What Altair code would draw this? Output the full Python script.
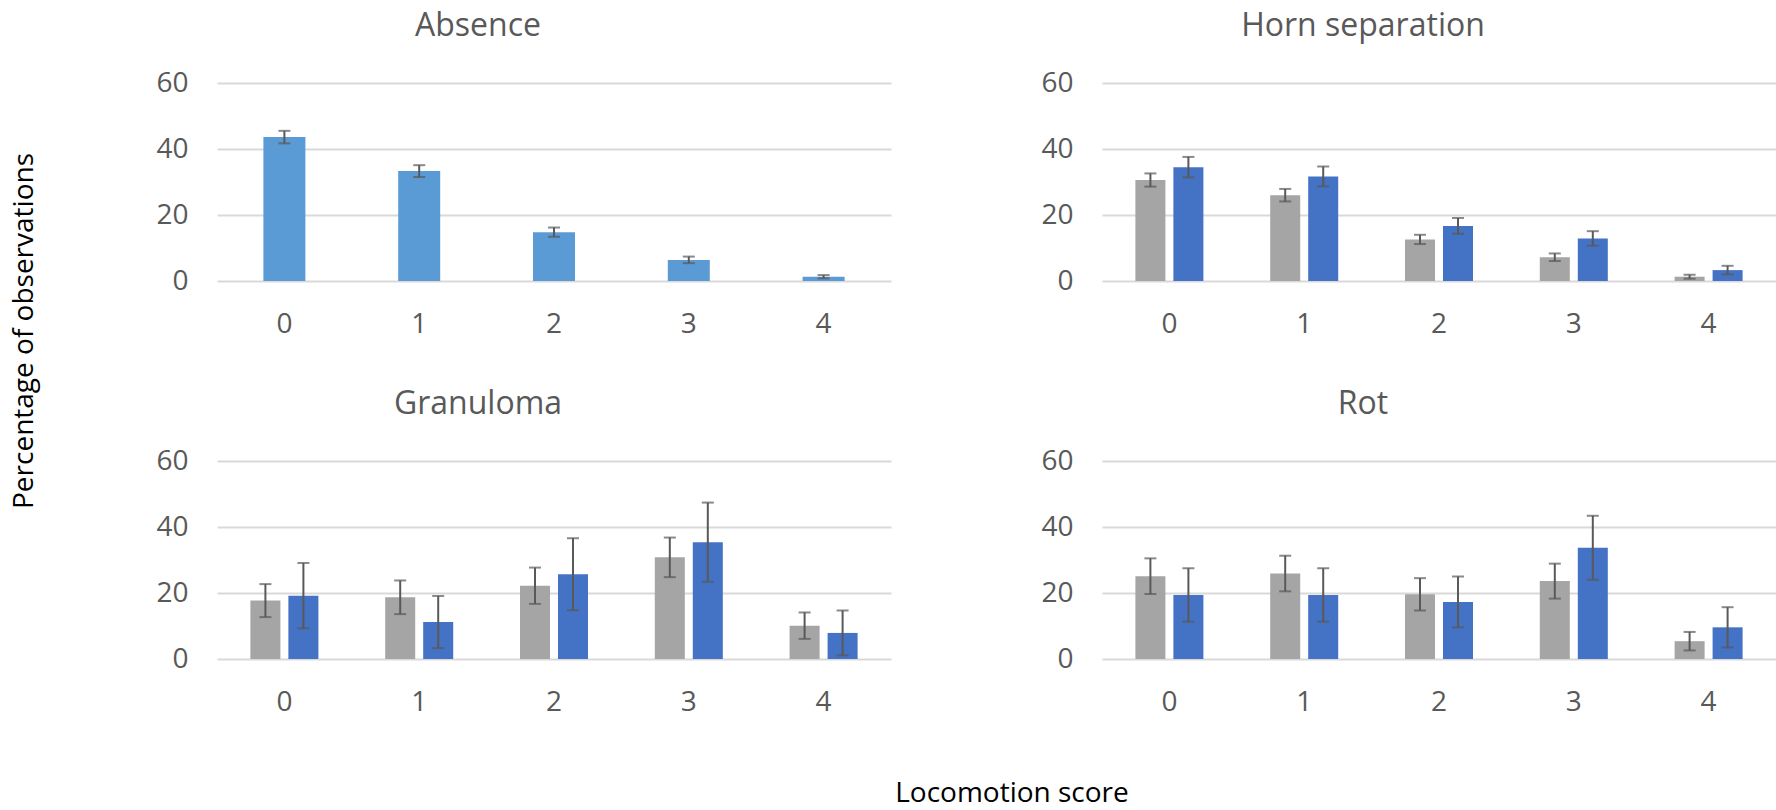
import altair as alt
import pandas as pd

# Locomotion score categories (x axis)
SCORES = ["0", "1", "2", "3", "4"]
SERIES = ["group_1", "group_2"]

# Absence: single series, mean % and error
absence_mean = [43.6, 33.3, 14.8, 6.4, 1.3]
absence_err = [1.9, 1.8, 1.4, 1.0, 0.5]

# Horn separation
horn_mean_1 = [30.6, 26.0, 12.6, 7.2, 1.3]
horn_err_1 = [2.0, 1.9, 1.4, 1.15, 0.6]
horn_mean_2 = [34.5, 31.7, 16.7, 12.9, 3.3]
horn_err_2 = [3.1, 3.0, 2.4, 2.2, 1.3]

# Granuloma
gran_mean_1 = [17.7, 18.7, 22.2, 30.8, 10.1]
gran_err_1 = [5.0, 5.1, 5.5, 6.0, 4.0]
gran_mean_2 = [19.2, 11.2, 25.7, 35.4, 7.9]
gran_err_2 = [9.9, 7.9, 10.9, 12.0, 6.8]

# Rot
rot_mean_1 = [25.1, 25.9, 19.6, 23.6, 5.4]
rot_err_1 = [5.4, 5.4, 4.9, 5.3, 2.8]
rot_mean_2 = [19.4, 19.4, 17.3, 33.7, 9.6]
rot_err_2 = [8.1, 8.1, 7.7, 9.7, 6.1]

FONT = "Open Sans"
TXT = "#595959"
GRID = "#d9d9d9"
ERR = "#595959"
GREY = "#a5a5a5"
BLUE = "#4472c4"
LIGHT_BLUE = "#5b9bd5"

W, H = 674, 198  # plot area of each panel


def rows(series_list):
    out = []
    for name, means, errs in series_list:
        for s, m, e in zip(SCORES, means, errs):
            out.append({"score": s, "series": name, "value": m,
                        "lo": m - e, "hi": m + e})
    return pd.DataFrame(out)


x_enc = alt.X(
    "score:N", sort=SCORES,
    scale=alt.Scale(paddingInner=0, paddingOuter=0),
    axis=alt.Axis(title=None, labelAngle=0, domain=False, ticks=False, grid=False,
                  labelFont=FONT, labelFontSize=28, labelColor=TXT, labelPadding=29),
)

y_axis = alt.Axis(
    title=None, values=[0, 20, 40, 60], domain=False, ticks=False,
    labelFont=FONT, labelFontSize=28, labelColor=TXT, labelPadding=29,
    gridColor=GRID, gridWidth=2,
)
y_scale = alt.Scale(domain=[0, 60], nice=False, zero=True)


def panel(title, series_list, colors, single=False, extras=()):
    df = rows(series_list)
    base = alt.Chart(df).encode(x=x_enc)
    offset = {}
    if not single:
        offset = {"xOffset": alt.XOffset(
            "series:N", sort=SERIES,
            scale=alt.Scale(paddingInner=0.21, paddingOuter=0.879))}

    bar_kwargs = {"size": 42} if single else {}
    bars = base.mark_bar(**bar_kwargs).encode(
        y=alt.Y("value:Q", scale=y_scale, axis=y_axis),
        color=alt.Color("series:N", scale=alt.Scale(domain=[s[0] for s in series_list],
                                                    range=colors), legend=None),
        **offset,
    )
    stems = base.mark_rule(color=ERR, strokeWidth=2).encode(
        y=alt.Y("lo:Q", scale=y_scale), y2="hi:Q", **offset)
    cap_hi = base.mark_tick(color=ERR, orient="horizontal", size=12, thickness=2).encode(
        y=alt.Y("hi:Q", scale=y_scale), **offset)
    cap_lo = base.mark_tick(color=ERR, orient="horizontal", size=12, thickness=2).encode(
        y=alt.Y("lo:Q", scale=y_scale), **offset)

    head = alt.Chart(pd.DataFrame({"t": [title]})).mark_text(
        font=FONT, fontSize=32, color=TXT, align="center", baseline="alphabetic"
    ).encode(text="t:N", x=alt.value(261), y=alt.value(-47))

    layers = [bars, stems, cap_hi, cap_lo, head, *extras]
    return alt.layer(*layers).properties(width=W, height=H)


# canvas frame: fixes the top-left corner of the figure
frame = alt.Chart(pd.DataFrame({"k": [0]})).mark_rect(opacity=0).encode(
    x=alt.value(-217), x2=alt.value(1559), y=alt.value(-83), y2=alt.value(727))

y_title = alt.Chart(pd.DataFrame({"t": ["Percentage of observations"]})).mark_text(
    font=FONT, fontSize=28, color="#000000", angle=270, align="center", baseline="middle"
).encode(text="t:N", x=alt.value(-192), y=alt.value(248))

x_title = alt.Chart(pd.DataFrame({"t": ["Locomotion score"]})).mark_text(
    font=FONT, fontSize=28, color="#000000", align="center", baseline="middle"
).encode(text="t:N", x=alt.value(795), y=alt.value(333))

p1 = panel("Absence", [("all", absence_mean, absence_err)], [LIGHT_BLUE],
           single=True, extras=(frame, y_title))
p2 = panel("Horn separation",
           [("group_1", horn_mean_1, horn_err_1), ("group_2", horn_mean_2, horn_err_2)],
           [GREY, BLUE])
p3 = panel("Granuloma",
           [("group_1", gran_mean_1, gran_err_1), ("group_2", gran_mean_2, gran_err_2)],
           [GREY, BLUE], extras=(x_title,))
p4 = panel("Rot",
           [("group_1", rot_mean_1, rot_err_1), ("group_2", rot_mean_2, rot_err_2)],
           [GREY, BLUE])

chart = alt.concat(
    p1, p2, p3, p4, columns=2,
    spacing={"row": 180, "column": 211}, bounds="flush",
).resolve_scale(color="independent").properties(
    padding=0, background="white"
).configure_view(stroke=None)

chart.save("out.html", embed_options={"renderer": "svg", "actions": False})
